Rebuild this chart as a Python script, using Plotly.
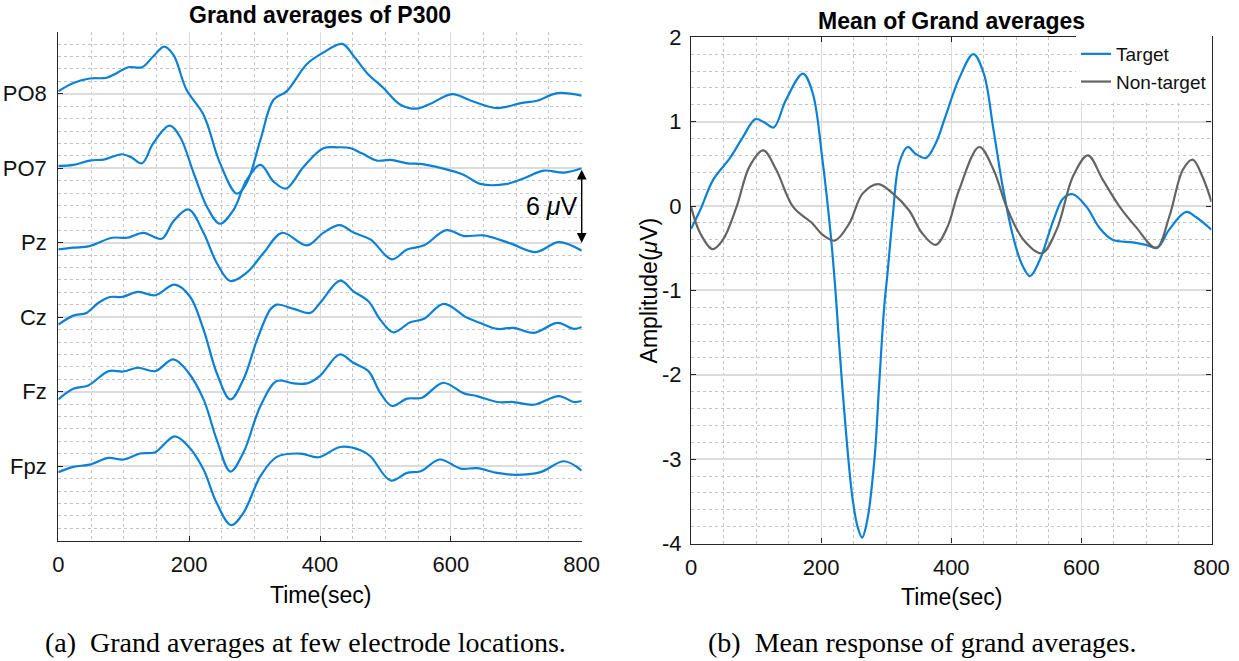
import plotly.graph_objects as go

# ---------------- data ----------------
channels = ["PO8", "PO7", "Pz", "Cz", "Fz", "Fpz"]
offsets = [30, 24, 18, 12, 6, 0]          # vertical spacing of 6 uV
xticks = [0, 200, 400, 600, 800]

PO8_t = [0, 23, 48, 74, 89, 107, 128, 145, 162, 176, 196, 222, 247, 273, 288, 309, 329, 349, 380, 405,
         434, 452, 472, 497, 523, 548, 569, 602, 630, 671, 707, 732, 763, 800]
PO8_v = [0.19, 0.86, 1.23, 1.29, 1.66, 2.14, 2.14, 3.0, 3.8, 3.13, 0.32, -1.69, -5.57, -8.04, -7.18, -3.7,
         -0.48, 0.19, 2.4, 3.32, 4.02, 3.0, 1.66, 0.46, -0.88, -1.2, -0.8, -0.03, -0.54, -1.15, -0.75,
         -0.56, 0.05, -0.16]

PO7_t = [0, 23, 48, 71, 97, 112, 128, 145, 170, 186, 207, 227, 247, 268, 288, 309, 329, 348, 375, 405,
         426, 446, 464, 487, 508, 533, 559, 600, 620, 645, 686, 712, 742, 773, 800]
PO7_v = [0.19, 0.27, 0.62, 0.72, 1.13, 0.86, 0.40, 2.0, 3.43, 2.54, -0.4, -3.08, -4.47, -3.35, -0.94,
         0.27, -1.07, -1.63, 0.13, 1.61, 1.69, 1.63, 1.2, 0.62, 0.67, 0.4, 0.32, -0.19, -0.54, -1.26,
         -1.26, -0.8, -0.19, -0.35, 0.0]

Pz_t = [0, 23, 48, 82, 105, 130, 158, 176, 199, 222, 242, 263, 288, 314, 342, 380, 405, 430, 452, 477,
        510, 533, 559, 593, 620, 650, 691, 730, 765, 800]
Pz_v = [-0.54, -0.4, -0.27, 0.4, 0.4, 0.8, 0.32, 1.74, 2.68, 0.8, -1.61, -3.08, -2.41, -0.8, 0.8, -0.21,
        0.8, 1.42, 0.8, 0.27, -1.34, -0.54, -0.21, 1.02, 0.54, 0.59, -0.05, -0.75, 0.05, -0.64]

Cz_t = [0, 23, 43, 61, 79, 97, 122, 148, 178, 201, 222, 242, 263, 283, 304, 324, 334, 360, 385, 400,
        431, 451, 474, 492, 512, 538, 559, 589, 625, 645, 671, 696, 727, 763, 788, 800]
Cz_v = [-0.59, 0.13, 0.35, 1.15, 1.63, 1.63, 2.04, 1.77, 2.63, 1.69, -0.99, -4.47, -6.62, -5.0, -1.79,
        0.62, 1.02, 0.67, 0.35, 1.15, 2.95, 2.09, 1.29, -0.19, -1.21, -0.4, -0.13, 1.07, -0.05, -0.46,
        -0.94, -0.86, -1.26, -0.46, -0.94, -0.78]

Fz_t = [0, 23, 46, 77, 99, 122, 148, 176, 199, 222, 242, 263, 283, 309, 334, 360, 380, 400, 430, 451,
        474, 492, 510, 533, 556, 588, 620, 640, 671, 696, 727, 765, 788, 800]
Fz_v = [-0.62, 0.24, 0.51, 1.66, 1.63, 1.93, 1.66, 2.6, 1.53, -0.62, -3.83, -6.43, -4.9, -1.15, 0.86,
        0.67, 0.67, 1.28, 3.0, 2.33, 1.66, -0.08, -1.15, -0.56, -0.48, 0.72, -0.13, -0.35, -0.83, -0.83,
        -1.05, -0.35, -0.83, -0.75]

Fpz_t = [0, 23, 48, 77, 99, 125, 148, 178, 201, 222, 242, 264, 283, 309, 334, 370, 398, 431, 462, 477,
         508, 533, 554, 583, 615, 640, 671, 699, 737, 773, 800]
Fpz_v = [-0.48, -0.05, 0.13, 0.67, 0.54, 1.02, 1.13, 2.41, 1.47, -0.27, -2.95, -4.74, -3.75, -0.8, 0.75,
         1.02, 0.72, 1.55, 1.29, 0.8, -1.15, -0.54, -0.4, 0.54, -0.19, -0.16, -0.54, -0.7, -0.48, 0.4,
         -0.35]

target_t = [0, 14, 34, 60, 80, 99, 113, 127, 146, 172, 187, 202, 215, 222, 228, 238, 248, 256, 263, 271,
            282, 289, 297, 302, 310, 320, 333, 345, 361, 376, 391, 412, 434, 450, 465, 480, 495, 508,
            521, 536, 557, 572, 587, 608, 628, 648, 679, 699, 717, 735, 761, 776, 800]
target_v = [-0.27, -0.05, 0.31, 0.57, 0.82, 1.03, 0.99, 0.93, 1.26, 1.57, 1.34, 0.55, -0.36, -1.0, -1.67,
            -2.66, -3.45, -3.8, -3.93, -3.72, -3.0, -2.14, -1.19, -0.8, -0.13, 0.51, 0.70, 0.62, 0.57,
            0.74, 1.06, 1.51, 1.80, 1.57, 0.9, 0.19, -0.36, -0.68, -0.83, -0.64, -0.17, 0.09, 0.14,
            -0.01, -0.26, -0.40, -0.43, -0.46, -0.49, -0.28, -0.07, -0.13, -0.28]

nontarget_t = [0, 14, 33, 49, 70, 90, 111, 131, 157, 187, 202, 221, 243, 264, 288, 310, 335, 355, 376,
               394, 412, 443, 465, 485, 511, 539, 562, 587, 610, 633, 659, 684, 715, 735, 756, 771, 786, 800]
nontarget_v = [-0.01, -0.32, -0.51, -0.40, -0.01, 0.47, 0.66, 0.43, -0.01, -0.21, -0.34, -0.41, -0.21,
               0.15, 0.26, 0.15, -0.05, -0.32, -0.46, -0.25, 0.19, 0.70, 0.43, -0.01, -0.40, -0.56,
               -0.28, 0.35, 0.60, 0.31, -0.01, -0.25, -0.50, -0.13, 0.43, 0.55, 0.35, 0.05]

right_yticks = [2, 1, 0, -1, -2, -3, -4]
right_yticklabels = ["2", "1", "0", "-1", "-2", "-3", "-4"]

# ---------------- styles ----------------
W, H = 1239, 661
BLUE = "#0B80D4"
GRAY = "#646464"
MAJ = "#DCDCDC"
MIN = "#C4C4C4"
AX = "#262626"
SANS = "Liberation Sans, Arial, sans-serif"
SERIF = "Liberation Serif, Times New Roman, serif"
TICK = 22
LAB = 23

dom_l = [58.3 / W, 581.7 / W]
dom_ly = [1 - 540.7 / H, 1 - 31.7 / H]
dom_r = [691.0 / W, 1211.5 / W]
dom_ry = [1 - 543.5 / H, 1 - 37.3 / H]

fig = go.Figure()

series_t = [PO8_t, PO7_t, Pz_t, Cz_t, Fz_t, Fpz_t]
series_v = [PO8_v, PO7_v, Pz_v, Cz_v, Fz_v, Fpz_v]
for name, off, tt, vv in zip(channels, offsets, series_t, series_v):
    fig.add_trace(go.Scatter(x=tt, y=[v + off for v in vv], mode="lines", name=name,
                             line=dict(color=BLUE, width=2.2, shape="spline", smoothing=1.0),
                             showlegend=False, xaxis="x", yaxis="y"))

fig.add_trace(go.Scatter(x=target_t, y=target_v, mode="lines", name="Target",
                         line=dict(color=BLUE, width=2.2, shape="spline", smoothing=1.0),
                         xaxis="x2", yaxis="y2"))
fig.add_trace(go.Scatter(x=nontarget_t, y=nontarget_v, mode="lines", name="Non-target",
                         line=dict(color=GRAY, width=2.2, shape="spline", smoothing=1.0),
                         xaxis="x2", yaxis="y2"))

common_x = dict(range=[0, 800], tickvals=xticks, ticks="inside", ticklen=5, tickcolor=AX,
                showline=True, linecolor=AX, linewidth=1.2, showgrid=True, gridcolor=MAJ, gridwidth=1,
                zeroline=False, automargin=False, ticklabelstandoff=4,
                tickfont=dict(family=SANS, size=TICK, color="#111"),
                minor=dict(dtick=50, tick0=0, showgrid=True, gridcolor=MIN, griddash="dot", gridwidth=1,
                           ticks=""))

fig.update_layout(
    width=W, height=H, margin=dict(l=0, r=0, t=0, b=0, autoexpand=False),
    paper_bgcolor="white", plot_bgcolor="white",
    xaxis=dict(domain=dom_l, anchor="y", **common_x),
    yaxis=dict(domain=dom_ly, anchor="x", range=[-6, 35], tickvals=offsets, ticktext=channels,
               ticks="inside", ticklen=5, tickcolor=AX, showline=True, linecolor=AX, linewidth=1.2,
               showgrid=True, gridcolor=MAJ, gridwidth=1.5, zeroline=False, automargin=False,
               ticklabelstandoff=6,
               tickfont=dict(family=SANS, size=TICK, color="#111"),
               minor=dict(dtick=1, tick0=0, showgrid=True, gridcolor=MIN, griddash="dot",
                          gridwidth=1, ticks="")),
    xaxis2=dict(domain=dom_r, anchor="y2", mirror="ticks", **common_x),
    yaxis2=dict(domain=dom_ry, anchor="x2", range=[-4, 2], tickvals=right_yticks,
                ticktext=right_yticklabels, ticks="inside", ticklen=5, tickcolor=AX, showline=True,
                linecolor=AX, linewidth=1.2, mirror="ticks", showgrid=True, gridcolor=MAJ,
                gridwidth=1.5, zeroline=False, automargin=False, ticklabelstandoff=4,
                tickfont=dict(family=SANS, size=TICK, color="#111"),
                minor=dict(dtick=0.2, tick0=0, showgrid=True, gridcolor=MIN, griddash="dot",
                           gridwidth=1, ticks="")),
    legend=dict(x=1212 / W, xanchor="right", y=1 - 35 / H, yanchor="top",
                bgcolor="rgba(255,255,255,1)", borderwidth=0,
                font=dict(family=SANS, size=19, color="#111"), tracegroupgap=0),
    showlegend=True,
)

ann = []
ann.append(dict(text="<b>Grand averages of P300</b>", x=sum(dom_l) / 2, y=1 - 15 / H,
                xref="paper", yref="paper", showarrow=False, xanchor="center", yanchor="middle",
                font=dict(family=SANS, size=23, color="#000")))
ann.append(dict(text="<b>Mean of Grand averages</b>", x=sum(dom_r) / 2, y=1 - 21 / H,
                xref="paper", yref="paper", showarrow=False, xanchor="center", yanchor="middle",
                font=dict(family=SANS, size=23, color="#000")))
ann.append(dict(text="Time(sec)", x=sum(dom_l) / 2, y=1 - 595 / H, xref="paper", yref="paper",
                showarrow=False, xanchor="center", yanchor="middle",
                font=dict(family=SANS, size=LAB, color="#000")))
ann.append(dict(text="Time(sec)", x=sum(dom_r) / 2, y=1 - 597 / H, xref="paper", yref="paper",
                showarrow=False, xanchor="center", yanchor="middle",
                font=dict(family=SANS, size=LAB, color="#000")))
ann.append(dict(text="Amplitude(<i>μ</i>V)", x=649 / W, y=sum(dom_ry) / 2, xref="paper", yref="paper",
                showarrow=False, xanchor="center", yanchor="middle", textangle=-90,
                font=dict(family=SANS, size=LAB, color="#000")))
ann.append(dict(text="(a)  Grand averages at few electrode locations.", x=305 / W, y=1 - 642 / H,
                xref="paper", yref="paper", showarrow=False, xanchor="center", yanchor="middle",
                font=dict(family=SERIF, size=28, color="#000")))
ann.append(dict(text="(b)  Mean response of grand averages.", x=922 / W, y=1 - 642 / H,
                xref="paper", yref="paper", showarrow=False, xanchor="center", yanchor="middle",
                font=dict(family=SERIF, size=28, color="#000")))
# 6 uV scale bar between PO7 and Pz baselines
ann.append(dict(text="", x=800, y=offsets[2], ax=800, ay=offsets[1], xref="x", yref="y",
                axref="x", ayref="y", showarrow=True, arrowhead=2, arrowside="end+start",
                arrowsize=1.4, arrowwidth=1.4, arrowcolor="#000", standoff=0, startstandoff=0))
ann.append(dict(text="6 <i>μ</i>V", x=797, y=(offsets[1] + offsets[2]) / 2, xref="x", yref="y",
                showarrow=False, xanchor="right", yanchor="middle",
                font=dict(family=SANS, size=25, color="#000")))
fig.update_layout(annotations=ann)

fig.write_html("out.html", config={"displayModeBar": False},
               post_script="document.body.style.margin='0px';document.body.style.overflow='hidden';")
